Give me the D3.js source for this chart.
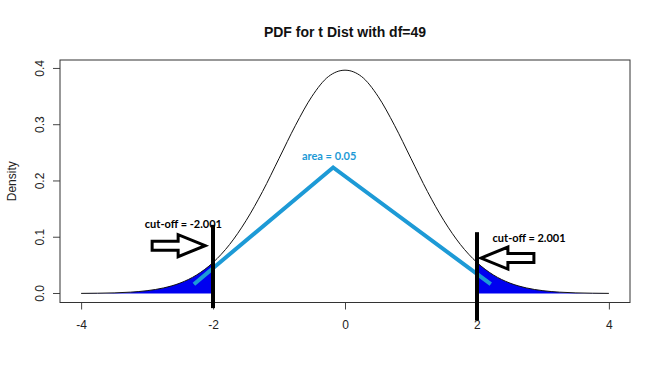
<!DOCTYPE html>
<html>
<head>
<meta charset="utf-8">
<script src="https://cdn.jsdelivr.net/npm/d3@7"></script>
<style>
  body { margin: 0; background: #fff; }
  svg { display: block; font-family: "Liberation Sans", Arial, sans-serif; }
</style>
</head>
<body>
<svg id="chart" width="663" height="378"></svg>
<script>
// t density (df=49)
let xs = [-4, -3.75, -3.5, -3.25, -3, -2.75, -2.5, -2.25, -2, -1.75, -1.5, -1.25, -1, -0.75, -0.5, -0.25,
          0, 0.25, 0.5, 0.75, 1, 1.25, 1.5, 1.75, 2, 2.25, 2.5, 2.75, 3, 3.25, 3.5, 3.75, 4]
let density = [0.0002, 0.0005, 0.0011, 0.0024, 0.0050, 0.0099, 0.0185, 0.0329, 0.0551, 0.0870, 0.1294, 0.1812, 0.2400, 0.2990, 0.3505, 0.3857,
               0.3969, 0.3857, 0.3505, 0.2990, 0.2400, 0.1812, 0.1294, 0.0870, 0.0551, 0.0329, 0.0185, 0.0099, 0.0050, 0.0024, 0.0011, 0.0005, 0.0002]
let cutoffs = [-2.001, 2.001]
let xTicks = [-4, -2, 0, 2, 4]
let yTicks = [0.0, 0.1, 0.2, 0.3, 0.4]
// light blue "area" line
let areaLineX = [-2.29, -0.18, 2.21]
let areaLineY = [0.0166, 0.224, 0.0166]
// cut-off bars: top / bottom
let cutTop = [0.122, 0.109]
let cutBottom = [-0.026, -0.048]

let svg = d3.select('#chart')
let margins = {top: 60, bottom: 75.5, left: 60, right: 33}
let W = 663, H = 378

let x = d3.scaleLinear().domain([-4.32, 4.32]).range([margins.left, W - margins.right])
let y = d3.scaleLinear().domain([-0.016, 0.415]).range([H - margins.bottom, margins.top])

let curve = xs.map((v, i) => ({x: v, y: density[i]}))

// TITLE
svg.append('text')
    .attr('x', (margins.left + W - margins.right) / 2)
    .attr('y', 37)
    .attr('text-anchor', 'middle')
    .attr('font-size', 14)
    .attr('font-weight', 'bold')
    .attr('fill', '#111')
    .text('PDF for t Dist with df=49')

// Y LABEL
svg.append('text')
    .attr('transform', `translate(16, ${(margins.top + H - margins.bottom) / 2}) rotate(-90)`)
    .attr('text-anchor', 'middle')
    .attr('font-size', 12)
    .attr('fill', '#222')
    .text('Density')

// X AXIS
let xAxis = svg.append('g')
    .attr('transform', `translate(0, ${H - margins.bottom})`)
    .call(d3.axisBottom(x).tickValues(xTicks).tickSize(7).tickPadding(11).tickFormat(d => String(d)))
xAxis.select('.domain').remove()
xAxis.selectAll('line').attr('stroke', '#444')
xAxis.selectAll('text').attr('font-size', 12).attr('fill', '#222').attr('font-family', 'Liberation Sans, Arial, sans-serif')

// Y AXIS
let yAxis = svg.append('g')
    .attr('transform', `translate(${margins.left}, 0)`)
    .call(d3.axisLeft(y).tickValues(yTicks).tickSize(7).tickFormat(d3.format('.1f')))
yAxis.select('.domain').remove()
yAxis.selectAll('line').attr('stroke', '#444')
yAxis.selectAll('text')
    .attr('font-size', 12).attr('fill', '#222').attr('font-family', 'Liberation Sans, Arial, sans-serif')
    .attr('text-anchor', 'middle')
    .attr('x', 0).attr('dy', 0)
    .attr('transform', d => `translate(-16, ${y(d)}) rotate(-90)`)
    .attr('y', 0)
yAxis.selectAll('.tick').attr('transform', null)
yAxis.selectAll('.tick line').attr('transform', d => `translate(0, ${y(d)})`)

// BOX
svg.append('rect')
    .attr('x', margins.left).attr('y', margins.top)
    .attr('width', W - margins.left - margins.right)
    .attr('height', H - margins.top - margins.bottom)
    .attr('fill', 'none').attr('stroke', '#333').attr('stroke-width', 1)

// TAILS
let area = d3.area().x(d => x(d.x)).y0(y(0)).y1(d => y(d.y)).curve(d3.curveMonotoneX)
let leftTail = curve.filter(d => d.x <= -2)
let rightTail = curve.filter(d => d.x >= 2)
svg.append('path').datum(leftTail).attr('d', area).attr('fill', '#0000f0')
svg.append('path').datum(rightTail).attr('d', area).attr('fill', '#0000f0')

// CURVE
let line = d3.line().x(d => x(d.x)).y(d => y(d.y)).curve(d3.curveMonotoneX)
svg.append('path').datum(curve).attr('d', line)
    .attr('fill', 'none').attr('stroke', '#111').attr('stroke-width', 1)

// AREA LINE
let areaPts = areaLineX.map((v, i) => [x(v), y(areaLineY[i])])
svg.append('path')
    .attr('d', d3.line()(areaPts))
    .attr('fill', 'none').attr('stroke', '#1d9ad6').attr('stroke-width', 4)
    .attr('stroke-linejoin', 'miter')

// CUT-OFF BARS
svg.selectAll('.cut')
    .data(cutoffs)
    .enter()
    .append('line')
        .attr('x1', d => x(d)).attr('x2', d => x(d))
        .attr('y1', (d, i) => y(cutTop[i]))
        .attr('y2', (d, i) => y(cutBottom[i]))
        .attr('stroke', '#000').attr('stroke-width', 4)

// ARROWS (hollow block arrows)
function blockArrow(tipX, tipY, dir) {
    let len = 53, head = 27, hh = 11, sh = 4.5
    let pts = [[0, 0], [head, -hh], [head, -sh], [len, -sh], [len, sh], [head, sh], [head, hh]]
    return pts.map(p => [tipX - dir * p[0], tipY + p[1]])
}
svg.append('polygon')
    .attr('points', blockArrow(x(-2.12), y(0.085), 1).join(' '))
    .attr('fill', '#fff').attr('stroke', '#000').attr('stroke-width', 3).attr('stroke-linejoin', 'miter')
svg.append('polygon')
    .attr('points', blockArrow(x(2.06), y(0.063), -1).join(' '))
    .attr('fill', '#fff').attr('stroke', '#000').attr('stroke-width', 3).attr('stroke-linejoin', 'miter')

// ANNOTATIONS
svg.append('text')
    .attr('x', x(-2.45)).attr('y', y(0.1235)).attr('dy', '0.35em')
    .attr('text-anchor', 'middle').attr('font-family', 'Lato, sans-serif')
    .attr('font-size', 11).attr('font-weight', 'bold').attr('fill', '#000')
    .text('cut-off = -2.001')
svg.append('text')
    .attr('x', x(2.79)).attr('y', y(0.0983)).attr('dy', '0.35em')
    .attr('text-anchor', 'middle').attr('font-family', 'Lato, sans-serif')
    .attr('font-size', 11).attr('font-weight', 'bold').attr('fill', '#000')
    .text('cut-off = 2.001')
svg.append('text')
    .attr('x', x(-0.24)).attr('y', y(0.2444)).attr('dy', '0.35em')
    .attr('text-anchor', 'middle').attr('font-family', 'Lato, sans-serif')
    .attr('font-size', 11).attr('font-weight', 'bold').attr('fill', '#1d9ad6')
    .text('area = 0.05')
</script>
</body>
</html>
